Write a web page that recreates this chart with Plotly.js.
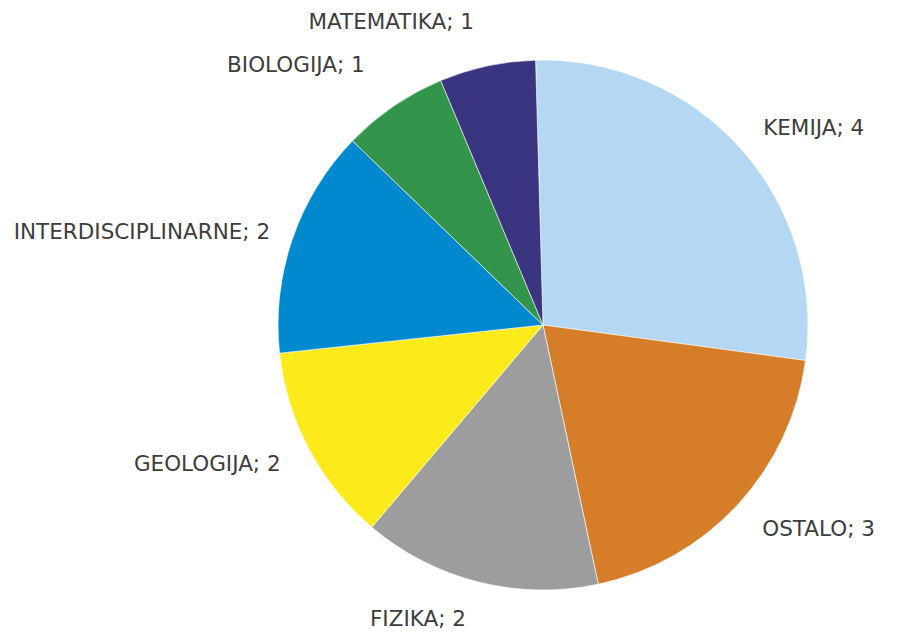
<!DOCTYPE html>
<html>
<head>
<meta charset="utf-8">
<script src="https://cdn.plot.ly/plotly-3.0.1.min.js"></script>
<style>
  html, body { margin: 0; padding: 0; background: #ffffff; }
  #chart { width: 899px; height: 632px; }
</style>
</head>
<body>
<div id="chart"></div>
<script>
// Data (labels show rounded values; slice sizes)
const categories = ["KEMIJA", "OSTALO", "FIZIKA", "GEOLOGIJA", "INTERDISCIPLINARNE", "BIOLOGIJA", "MATEMATIKA"];
const values = [4.14, 2.93, 2.18, 1.82, 2.09, 0.97, 0.88];
const colors = ["#b4d8f3", "#d67d29", "#9d9d9d", "#fdea1b", "#0089cf", "#33954b", "#3a3580"];
// per-label radial offset (fraction of label ring radius) to place labels like the original
const labelPull = [0.02, 0.03, 0.03, 0.028, 0, 0.082, 0.057];

const labelTrace = {
  type: "pie",
  labels: categories,
  values: values,
  sort: false,
  direction: "clockwise",
  rotation: -1.6,
  pull: labelPull,
  domain: { x: [0.2646, 0.9434], y: [0.0031, 0.9686] },
  marker: { colors: categories.map(() => "rgba(0,0,0,0)"), line: { width: 0 } },
  textposition: "outside",
  texttemplate: "%{label}; %{value:.0f}",
  textfont: { family: "DejaVu Sans, sans-serif", size: 21.5, color: "#3d3d3d" },
  hoverinfo: "skip",
  showlegend: false
};

const pieTrace = {
  type: "pie",
  labels: categories,
  values: values,
  sort: false,
  direction: "clockwise",
  rotation: -1.6,
  domain: { x: [0.309, 0.899], y: [0.0665, 0.905] },
  marker: { colors: colors, line: { color: "#ffffff", width: 0.6 } },
  textinfo: "none",
  hovertemplate: "%{label}; %{value:.0f}<extra></extra>",
  showlegend: false
};

Plotly.newPlot("chart", [labelTrace, pieTrace], {
  width: 899,
  height: 632,
  margin: { l: 0, r: 0, t: 0, b: 0 },
  paper_bgcolor: "#ffffff",
  showlegend: false
}, { displayModeBar: false, staticPlot: false });
</script>
</body>
</html>
